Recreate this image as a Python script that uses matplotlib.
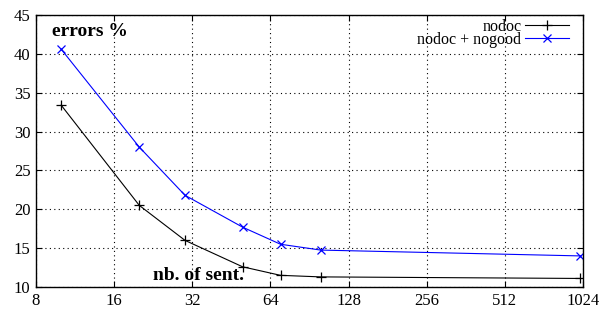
import matplotlib
matplotlib.use("Agg")
import matplotlib.pyplot as plt
from matplotlib.ticker import FixedLocator, FixedFormatter, NullLocator

plt.rcParams['font.family'] = ['Liberation Serif', 'DejaVu Serif']

x = [10, 20, 30, 50, 70, 100, 1000]
nodoc = [33.4, 20.5, 16.0, 12.6, 11.5, 11.3, 11.1]
nodoc_nogood = [40.6, 28.0, 21.8, 17.7, 15.5, 14.75, 14.0]
xticks = [8, 16, 32, 64, 128, 256, 512, 1024]
yticks = [10, 15, 20, 25, 30, 35, 40, 45]

fig = plt.figure(figsize=(6.05, 3.12), dpi=100)
ax = fig.add_axes([36/605, 25/312, (583-36)/605, (287-15)/312])
ax.set_xscale('log', base=2)
ax.set_xlim(8, 1024)
ax.set_ylim(10, 45)
ax.plot(x, nodoc, color='black', lw=0.8, marker='+', ms=7, mew=0.9, label='nodoc')
ax.plot(x, nodoc_nogood, color='blue', lw=0.8, marker='x', ms=6, mew=0.9, label='nodoc + nogood')
ax.xaxis.set_major_locator(FixedLocator(xticks))
ax.xaxis.set_major_formatter(FixedFormatter([str(t) for t in xticks]))
ax.xaxis.set_minor_locator(NullLocator())
ax.set_yticks(yticks)
ax.tick_params(direction='in', top=True, right=True, labelsize=12, length=4, pad=4)
ax.grid(True, color='black', linestyle=(0, (1, 3)), lw=0.8)
for s in ax.spines.values():
    s.set_linewidth(1.0)
ax.text(0.03, 0.94, 'errors %', transform=ax.transAxes, fontsize=14, fontweight='bold', va='center', ha='left')
ax.text(0.213, 0.01, 'nb. of sent.', transform=ax.transAxes, fontsize=14, fontweight='bold', va='bottom', ha='left')
leg = ax.legend(loc='upper right', bbox_to_anchor=(0.975, 0.985), markerfirst=False, frameon=False,
                fontsize=11.5, handlelength=2.8, borderpad=0.0, labelspacing=-0.2,
                handletextpad=0.2, borderaxespad=0.0)
for t in leg.get_texts():
    t.set_ha('right')
fig.savefig('out.png', dpi=100)
